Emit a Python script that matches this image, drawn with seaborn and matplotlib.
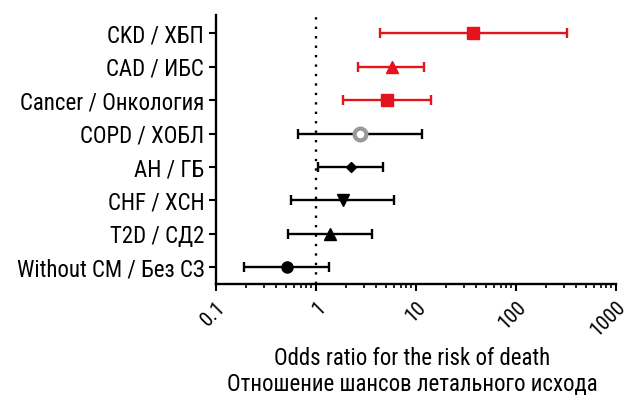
import numpy as np
import matplotlib
matplotlib.use("Agg")
import matplotlib.pyplot as plt
from matplotlib import font_manager
import seaborn as sns
from matplotlib.ticker import LogLocator, FixedLocator, NullFormatter

# data (top to bottom)
groups = ["CKD / ХБП", "CAD / ИБС", "Cancer / Онкология", "COPD / ХОБЛ",
          "AH / ГБ", "CHF / ХСН", "T2D / СД2", "Without CM / Без СЗ"]
odds = [37, 5.8, 5.1, 2.75, 2.24, 1.86, 1.38, 0.51]
ci_low = [4.4, 2.6, 1.86, 0.66, 1.05, 0.56, 0.52, 0.19]
ci_high = [324, 12, 14, 11.5, 4.7, 6.0, 3.6, 1.35]
markers = ["s", "^", "s", "o", "D", "v", "^", "o"]
colors = ["#e5131b", "#e5131b", "#e5131b", "#999999", "black", "black", "black", "black"]

sns.set_style("ticks")
# prefer a narrow face if one is installed
names = {f.name for f in font_manager.fontManager.ttflist}
narrow = [n for n in ["Roboto Condensed", "Liberation Sans Narrow", "DejaVu Sans Condensed",
                      "Open Sans Condensed"] if n in names]
plt.rcParams["font.family"] = narrow[:1] + ["DejaVu Sans"]
plt.rcParams["font.stretch"] = "condensed"
fs = 16.5 if narrow else 13
plt.rcParams["text.color"] = "black"
plt.rcParams["xtick.color"] = "black"
plt.rcParams["ytick.color"] = "black"
plt.rcParams["axes.labelcolor"] = "black"

fig = plt.figure(figsize=(6.28, 4.0), dpi=100)
ax = fig.add_axes([0.344, 0.29, 0.637, 0.6725])

ypos = np.arange(len(groups))[::-1]
for i in range(len(groups)):
    bar_col = "black" if colors[i] == "#999999" else colors[i]
    ax.errorbar(odds[i], ypos[i],
                xerr=[[odds[i] - ci_low[i]], [ci_high[i] - odds[i]]],
                fmt="none", ecolor=bar_col, elinewidth=1.7, capsize=3.8, capthick=1.7, zorder=2)
    size = {"s": 9, "^": 9, "v": 8, "D": 5.5, "o": 8}[markers[i]]
    if groups[i].startswith("COPD"):
        ax.plot(odds[i], ypos[i], marker="o", ms=8.5, mfc="white", mec=colors[i], mew=3, zorder=3)
    else:
        ax.plot(odds[i], ypos[i], marker=markers[i], ms=size, color=colors[i], zorder=3)

ax.axvline(1, color="black", ls=(0, (1, 3)), lw=1.7, zorder=1)

ax.set_xscale("log")
ax.set_xlim(0.1, 1000)
ax.set_ylim(-0.5, 7.55)
ax.xaxis.set_major_locator(FixedLocator([0.1, 1, 10, 100, 1000]))
ax.set_xticklabels(["0.1", "1", "10", "100", "1000"], rotation=45, ha="right",
                   rotation_mode="anchor", fontsize=fs - 1.5)
ax.xaxis.set_minor_locator(LogLocator(base=10, subs=np.arange(2, 10)))
ax.xaxis.set_minor_formatter(NullFormatter())
ax.set_yticks(ypos)
ax.set_yticklabels(groups, fontsize=fs)

ax.tick_params(axis="both", which="major", length=5, width=1.5, color="black")
ax.tick_params(axis="x", which="minor", length=3, width=1.2, color="black")
ax.tick_params(axis="x", pad=5)
for s in ["left", "bottom"]:
    ax.spines[s].set_linewidth(1.7)
    ax.spines[s].set_color("black")
sns.despine(ax=ax)

ax.set_xlabel("Odds ratio for the risk of death\nОтношение шансов летального исхода",
              fontsize=16.5, linespacing=1.15)
ax.xaxis.set_label_coords(0.49, -0.236)

fig.savefig("out.png", dpi=100)
